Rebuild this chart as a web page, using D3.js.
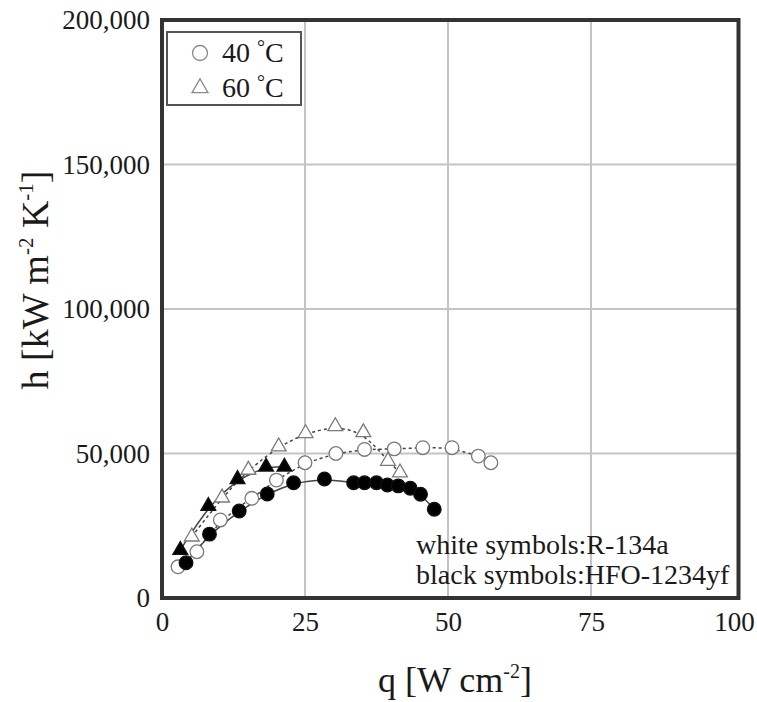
<!DOCTYPE html>
<html><head><meta charset="utf-8">
<script src="https://cdn.jsdelivr.net/npm/d3@7"></script>
<style>
body{margin:0;background:#fff}
svg{display:block}
text{font-family:"Liberation Serif","Times New Roman",serif}
</style>
</head><body>
<svg id="c" width="757" height="702"></svg>
<script>
// ---- data ----
const xTicks = [0, 25, 50, 75, 100];
const yTicks = [0, 50000, 100000, 150000, 200000];
const gridX = [25, 50, 75];
const gridY = [50000, 100000, 150000];

// R-134a, 40 °C (white circles)
const r134a40Q = [2.8, 6.1, 10.2, 15.7, 20.0, 25.0, 30.4, 35.4, 40.6, 45.6, 50.7, 55.3, 57.5];
const r134a40H = [10800, 16000, 27000, 34500, 40800, 46800, 50000, 51400, 51600, 52000, 52000, 49100, 46800];
// HFO-1234yf, 40 °C (black circles)
const hfo40Q = [4.2, 8.3, 13.5, 18.4, 23.0, 28.4, 33.5, 35.4, 37.5, 39.4, 41.3, 43.4, 45.2, 47.6];
const hfo40H = [12200, 22100, 30100, 36000, 39900, 41200, 39900, 39900, 39900, 39100, 38800, 38000, 35900, 30700];
// R-134a, 60 °C (white triangles)
const r134a60Q = [5.2, 10.5, 15.1, 20.4, 25.1, 30.3, 35.2, 39.5, 41.6];
const r134a60H = [21200, 34700, 44300, 52400, 57000, 59400, 57300, 47400, 43400];
// HFO-1234yf, 60 °C (black triangles)
const hfo60Q = [3.2, 8.1, 13.2, 18.2, 21.4];
const hfo60H = [16600, 31800, 41100, 45400, 45400];

const legendLabels = ["40 ", "60 "];
const noteLines = ["white symbols:R-134a", "black symbols:HFO-1234yf"];

// ---- chart ----
const svg = d3.select("#c");
const L = 162, R = 738.5, T = 20, B = 598;
const x = d3.scaleLinear().domain([0, 100]).range([L, 734]);
const y = d3.scaleLinear().domain([0, 200000]).range([B, T]);

const pts = (qs, hs) => qs.map((q, i) => [q, hs[i]]);
const series = [
  {d: pts(r134a40Q, r134a40H), shape: "circle", fill: "#fff", dash: "3,3"},
  {d: pts(hfo40Q, hfo40H), shape: "circle", fill: "#000", dash: null},
  {d: pts(r134a60Q, r134a60H), shape: "tri", fill: "#fff", dash: "3,3"},
  {d: pts(hfo60Q, hfo60H), shape: "tri", fill: "#000", dash: null}
];

// grid
svg.append("g").selectAll("line").data(gridX).join("line")
  .attr("x1", d => x(d)).attr("x2", d => x(d)).attr("y1", T).attr("y2", B)
  .attr("stroke", "#c4c4c4").attr("stroke-width", 2);
svg.append("g").selectAll("line").data(gridY).join("line")
  .attr("y1", d => y(d)).attr("y2", d => y(d)).attr("x1", L).attr("x2", R)
  .attr("stroke", "#c4c4c4").attr("stroke-width", 2);

// trend lines
const line = d3.line().x(d => x(d[0])).y(d => y(d[1])).curve(d3.curveBasis);
series.forEach(s => {
  svg.append("path").attr("d", line(s.d)).attr("fill", "none")
    .attr("stroke", "#444").attr("stroke-width", 1.5)
    .attr("stroke-dasharray", s.dash);
});

// markers
const triPath = d3.symbol().type(d3.symbolTriangle).size(95)();
series.forEach(s => {
  const g = svg.append("g");
  if (s.shape === "circle") {
    g.selectAll("circle").data(s.d).join("circle")
      .attr("cx", d => x(d[0])).attr("cy", d => y(d[1])).attr("r", 6.8)
      .attr("fill", s.fill).attr("stroke", s.fill === "#000" ? "#111" : "#7a7a7a").attr("stroke-width", 1.3);
  } else {
    g.selectAll("path").data(s.d).join("path")
      .attr("d", triPath)
      .attr("transform", d => `translate(${x(d[0])},${y(d[1])})`)
      .attr("fill", s.fill).attr("stroke", s.fill === "#000" ? "#111" : "#7a7a7a").attr("stroke-width", 1.3);
  }
});

// frame
svg.append("rect").attr("x", L).attr("y", T).attr("width", R - L).attr("height", B - T)
  .attr("fill", "none").attr("stroke", "#333").attr("stroke-width", 4);

// axes (labels only)
const xa = svg.append("g").attr("transform", `translate(0,${B})`)
  .call(d3.axisBottom(x).tickValues(xTicks).tickSize(0).tickPadding(14).tickFormat(d3.format("d")));
xa.select(".domain").remove();
xa.selectAll("text").attr("font-size", 27).attr("fill", "#1a1a1a")
  .attr("font-family", "'Liberation Serif','Times New Roman',serif");

const ya = svg.append("g").attr("transform", `translate(${L},0)`)
  .call(d3.axisLeft(y).tickValues(yTicks).tickSize(0).tickPadding(12).tickFormat(d3.format(",")));
ya.select(".domain").remove();
ya.selectAll("text").attr("font-size", 27).attr("fill", "#1a1a1a")
  .attr("font-family", "'Liberation Serif','Times New Roman',serif");

// axis titles
const xt = svg.append("text").attr("x", 455).attr("y", 692).attr("text-anchor", "middle")
  .attr("font-size", 36).attr("fill", "#1a1a1a");
xt.append("tspan").text("q [W cm");
xt.append("tspan").attr("font-size", 20).attr("dy", -14).text("-2");
xt.append("tspan").attr("dy", 14).text("]");

const yt = svg.append("text").attr("transform", "translate(48,280) rotate(-90)")
  .attr("text-anchor", "middle").attr("font-size", 38).attr("fill", "#1a1a1a");
yt.append("tspan").text("h [kW m");
yt.append("tspan").attr("font-size", 21).attr("dy", -15).text("-2");
yt.append("tspan").attr("dy", 15).text(" K");
yt.append("tspan").attr("font-size", 21).attr("dy", -15).text("-1");
yt.append("tspan").attr("dy", 15).text("]");

// legend
const lg = svg.append("g");
lg.append("rect").attr("x", 167).attr("y", 32).attr("width", 134).attr("height", 73)
  .attr("fill", "#fff").attr("stroke", "#555").attr("stroke-width", 2);
lg.append("circle").attr("cx", 200).attr("cy", 53).attr("r", 7.5)
  .attr("fill", "#fff").attr("stroke", "#8a8a8a").attr("stroke-width", 1.3);
lg.append("path").attr("d", d3.symbol().type(d3.symbolTriangle).size(110)())
  .attr("transform", "translate(200,88)")
  .attr("fill", "#fff").attr("stroke", "#8a8a8a").attr("stroke-width", 1.3);
legendLabels.forEach((t, i) => {
  const tx = lg.append("text").attr("x", 222).attr("y", 62 + i * 35)
    .attr("font-size", 28).attr("fill", "#1a1a1a");
  tx.append("tspan").text(t);
  tx.append("tspan").attr("font-size", 20).attr("dy", -8).text("°");
  tx.append("tspan").attr("dy", 8).text("C");
});

// note
noteLines.forEach((t, i) => {
  svg.append("text").attr("x", 416).attr("y", 554 + i * 30)
    .attr("font-size", 28).attr("fill", "#1a1a1a").text(t);
});
</script>
</body></html>
